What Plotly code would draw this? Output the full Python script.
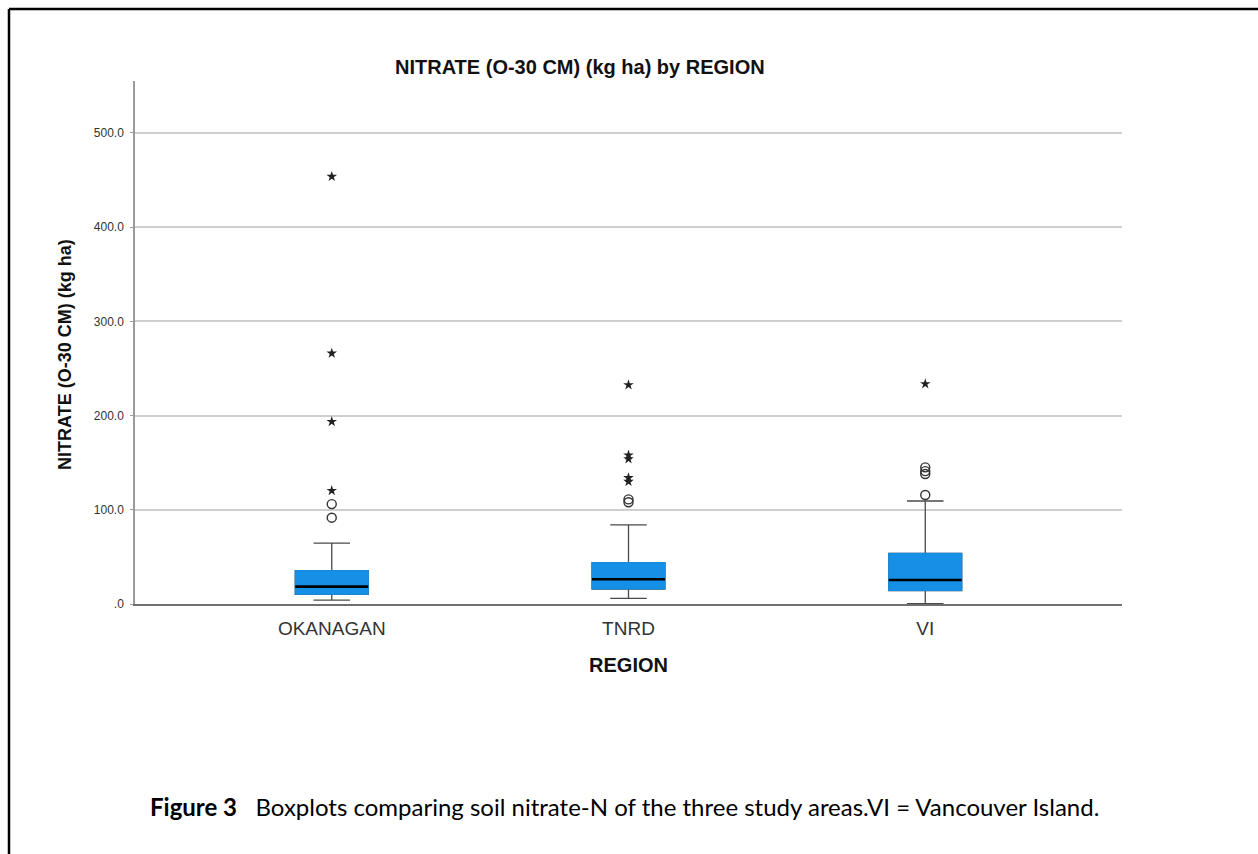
import plotly.graph_objects as go

# Soil nitrate (0-30 cm), kg/ha, summarised per region
regions = ["OKANAGAN", "TNRD", "VI"]
q1 = [10.3, 15.9, 14.2]
median = [18.4, 26.2, 25.5]
q3 = [35.4, 43.9, 53.8]
lower_whisker = [4.2, 6.0, 0.5]
upper_whisker = [64.7, 83.9, 109.3]

# outliers (circles) and extreme values (stars)
circle_x = ["OKANAGAN", "OKANAGAN", "TNRD", "TNRD", "VI", "VI", "VI", "VI"]
circle_y = [91.6, 106.0, 108.0, 111.0, 115.7, 138.0, 141.0, 145.0]
star_x = ["OKANAGAN", "OKANAGAN", "OKANAGAN", "OKANAGAN",
          "TNRD", "TNRD", "TNRD", "TNRD", "TNRD", "VI"]
star_y = [120.3, 193.5, 266.0, 453.6,
          130.0, 134.0, 154.0, 158.0, 232.5, 233.5]

y_ticks = [0, 100, 200, 300, 400, 500]
y_tick_text = [".0", "100.0", "200.0", "300.0", "400.0", "500.0"]

BLUE = "#1690E6"
BOX_W = 0.246
W, H = 1258, 854
L, R, T, B = 135, 1122, 81, 604


def px_x(p):
    return (p - L) / (R - L)


def px_y(p):
    return (B - p) / (B - T)


fig = go.Figure()

# whiskers with caps
fig.add_trace(go.Box(
    x=regions, q1=q1, median=median, q3=q3,
    lowerfence=lower_whisker, upperfence=upper_whisker,
    width=BOX_W, whiskerwidth=0.5, boxpoints=False,
    line=dict(color="#4a4a4a", width=1.3),
    fillcolor="rgba(0,0,0,0)", showlegend=False, hoverinfo="skip",
))
# interquartile box
fig.add_trace(go.Box(
    x=regions, q1=q1, median=q1, q3=q3,
    lowerfence=q1, upperfence=q3,
    width=BOX_W, whiskerwidth=0, boxpoints=False,
    line=dict(color=BLUE, width=1),
    fillcolor=BLUE, showlegend=False, hoverinfo="skip",
))
# median line
fig.add_trace(go.Box(
    x=regions, q1=median, median=median, q3=median,
    lowerfence=median, upperfence=median,
    width=BOX_W, whiskerwidth=0, boxpoints=False,
    line=dict(color="#000000", width=2.6),
    fillcolor="#000000", showlegend=False, hoverinfo="skip",
))
fig.add_trace(go.Scatter(
    x=circle_x, y=circle_y, mode="markers", showlegend=False,
    marker=dict(symbol="circle-open", size=9, color="#333333",
                line=dict(width=1.4, color="#333333")),
))
fig.add_trace(go.Scatter(
    x=star_x, y=star_y, mode="markers", showlegend=False,
    marker=dict(symbol="star", size=8, color="#222222",
                line=dict(width=0)),
))

AX_FONT = "Liberation Sans, Arial, sans-serif"

fig.update_layout(
    width=W, height=H,
    margin=dict(l=L, r=W - R, t=T, b=H - B),
    paper_bgcolor="white", plot_bgcolor="white",
    boxmode="overlay",
    showlegend=False,
    font=dict(family=AX_FONT, color="#222222"),
    xaxis=dict(
        type="category", categoryorder="array", categoryarray=regions,
        range=[-0.663, 2.663],
        showgrid=False, zeroline=False,
        showline=True, linecolor="#707070", linewidth=2,
        ticks="", tickfont=dict(family=AX_FONT, size=19, color="#333333"),
        ticklabelstandoff=6,
        title=dict(text="<b>REGION</b>", font=dict(family=AX_FONT, size=20, color="#111111"),
                   standoff=20),
    ),
    yaxis=dict(
        range=[0, 555],
        tickvals=y_ticks, ticktext=y_tick_text,
        showgrid=True, gridcolor="#cfcfcf", gridwidth=1.5,
        zeroline=False,
        showline=True, linecolor="#9a9a9a", linewidth=1.5,
        ticks="outside", ticklen=3, tickcolor="#9a9a9a",
        tickfont=dict(family=AX_FONT, size=12, color="#333333"),
        ticklabelstandoff=4,
    ),
)

# vertical axis title
fig.add_annotation(
    text="<b>NITRATE (O-30 CM) (kg ha)</b>",
    xref="paper", yref="paper", x=px_x(65), y=px_y(355),
    xanchor="center", yanchor="middle", textangle=-90, showarrow=False,
    font=dict(family=AX_FONT, size=18, color="#111111"),
)

fig.add_annotation(
    text="<b>NITRATE (O-30 CM) (kg ha) by REGION</b>",
    xref="paper", yref="paper", x=px_x(580), y=px_y(67),
    xanchor="center", yanchor="middle", showarrow=False,
    font=dict(family=AX_FONT, size=20, color="#111111"),
)

fig.add_annotation(
    text="<b>Figure 3</b>   Boxplots comparing soil nitrate-N of the three study areas.VI = Vancouver Island.",
    xref="paper", yref="paper", x=px_x(148), y=px_y(806),
    xanchor="left", yanchor="middle", showarrow=False,
    font=dict(family="Lato, sans-serif", size=24, color="#000000"),
)

# page frame
for x0, y0, x1, y1 in [(9, 9, W + 5, 9), (9, 9, 9, H + 5)]:
    fig.add_shape(type="line", xref="paper", yref="paper",
                  x0=px_x(x0), y0=px_y(y0), x1=px_x(x1), y1=px_y(y1),
                  line=dict(color="#000000", width=2.5))

fig.write_html("out.html")
